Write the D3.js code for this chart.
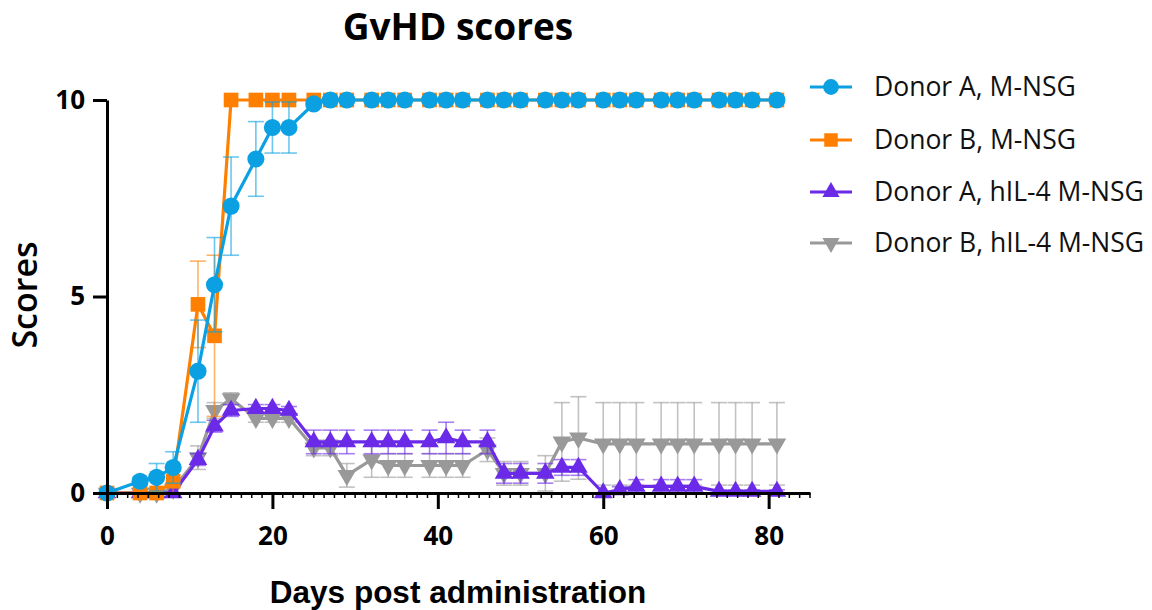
<!DOCTYPE html>
<html>
<head>
<meta charset="utf-8">
<script src="https://cdn.jsdelivr.net/npm/d3@7"></script>
<style>
  html, body { margin: 0; padding: 0; background: #fff; }
  svg { display: block; }
</style>
</head>
<body>
<svg id="chart" width="1152" height="610"></svg>
<script>
// ---------------- DATA ----------------
const days = [0,4,6,8,11,13,15,18,20,22,25,27,29,32,34,36,39,41,43,46,48,50,53,55,57,60,62,64,67,69,71,74,76,78,81];

const seriesNames = ["Donor A, M-NSG", "Donor B, M-NSG", "Donor A, hIL-4 M-NSG", "Donor B, hIL-4 M-NSG"];

const donorA_MNSG_mean = [0,0.3,0.4,0.65,3.1,5.3,7.3,8.5,9.3,9.3,9.9,10,10,10,10,10,10,10,10,10,10,10,10,10,10,10,10,10,10,10,10,10,10,10,10];
const donorA_MNSG_sem  = [0,0.1,0.35,0.4,1.3,1.2,1.25,0.95,0.65,0.65,0.1,0,0,0,0,0,0,0,0,0,0,0,0,0,0,0,0,0,0,0,0,0,0,0,0];

const donorB_MNSG_mean = [0,0,0,0.3,4.8,4.0,10,10,10,10,10,10,10,10,10,10,10,10,10,10,10,10,10,10,10,10,10,10,10,10,10,10,10,10,10];
const donorB_MNSG_sem  = [0,0,0,0.3,1.1,2.05,0,0,0,0,0,0,0,0,0,0,0,0,0,0,0,0,0,0,0,0,0,0,0,0,0,0,0,0,0];

const donorA_IL4_mean = [0,0,0,0,0.85,1.7,2.1,2.15,2.15,2.1,1.3,1.3,1.3,1.3,1.3,1.3,1.3,1.4,1.3,1.3,0.5,0.5,0.5,0.65,0.65,0,0.08,0.17,0.17,0.17,0.17,0.04,0.04,0.04,0.04];
const donorA_IL4_sem  = [0,0,0,0,0.15,0.15,0.15,0.1,0.1,0.1,0.3,0.3,0.3,0.3,0.3,0.3,0.3,0.4,0.3,0.3,0.25,0.25,0.25,0.2,0.2,0,0.08,0.17,0.17,0.17,0.17,0.04,0.04,0.04,0.04];

const donorB_IL4_mean = [0,0,0,0.1,0.9,2.1,2.4,1.9,1.9,1.9,1.15,1.15,0.45,0.85,0.7,0.7,0.7,0.7,0.7,1.1,0.5,0.5,0.5,1.3,1.4,1.25,1.25,1.25,1.25,1.25,1.25,1.25,1.25,1.25,1.25];
const donorB_IL4_sem  = [0,0,0,0.1,0.3,0.2,0.15,0.1,0.1,0.1,0.2,0.2,0.3,0.45,0.3,0.3,0.3,0.3,0.3,0.3,0.3,0.3,0.45,1.0,1.05,1.05,1.05,1.05,1.05,1.05,1.05,1.05,1.05,1.05,1.05];

const xTicks = [0,20,40,60,80];
const yTicks = [0,5,10];

// ---------------- STYLE ----------------
const colors = ["#0aa0e2", "#ff8000", "#6a2ae8", "#999999"];
const symbols = [d3.symbolCircle, d3.symbolSquare, d3.symbolTriangle, d3.symbolTriangle];
const symSizes = [230, 215, 150, 150];
const rotations = [0, 0, 0, 180];

const series = [
  {name: seriesNames[0], mean: donorA_MNSG_mean, sem: donorA_MNSG_sem},
  {name: seriesNames[1], mean: donorB_MNSG_mean, sem: donorB_MNSG_sem},
  {name: seriesNames[2], mean: donorA_IL4_mean, sem: donorA_IL4_sem},
  {name: seriesNames[3], mean: donorB_IL4_mean, sem: donorB_IL4_sem}
].map((s, i) => ({...s, color: colors[i], symbol: symbols[i], size: symSizes[i], rot: rotations[i],
  pts: days.map((d, j) => ({x: d, y: s.mean[j], e: s.sem[j]}))}));

const svg = d3.select("#chart");
const x = d3.scaleLinear().domain([0, 85]).range([107, 810]);
const y = d3.scaleLinear().domain([0, 10]).range([493, 100]);

const plot = svg.append("g");

// draw order: last series underneath, first on top
const order = [3, 2, 1, 0];
order.forEach(i => {
  const s = series[i];
  const g = plot.append("g");
  const eb = g.append("g").attr("stroke", s.color).attr("stroke-opacity", 0.6).attr("stroke-width", 1.6).attr("fill", "none");
  s.pts.filter(p => p.e > 0).forEach(p => {
    const cx = x(p.x);
    eb.append("line").attr("x1", cx).attr("x2", cx).attr("y1", y(p.y - p.e)).attr("y2", y(p.y + p.e));
    eb.append("line").attr("x1", cx - 8).attr("x2", cx + 8).attr("y1", y(p.y + p.e)).attr("y2", y(p.y + p.e));
    eb.append("line").attr("x1", cx - 8).attr("x2", cx + 8).attr("y1", y(p.y - p.e)).attr("y2", y(p.y - p.e));
  });
  g.append("path").datum(s.pts)
    .attr("fill", "none").attr("stroke", s.color).attr("stroke-width", 3.2).attr("stroke-linejoin", "round")
    .attr("d", d3.line().x(p => x(p.x)).y(p => y(p.y)));
  g.selectAll("path.m").data(s.pts).join("path").attr("class", "m")
    .attr("fill", s.color)
    .attr("transform", p => `translate(${x(p.x)},${y(p.y)}) rotate(${s.rot})`)
    .attr("d", d3.symbol().type(s.symbol).size(s.size));
});

// ---------------- AXES ----------------
const axG = svg.append("g");
const xAxis = d3.axisBottom(x).tickValues(xTicks).tickSize(16).tickSizeOuter(0).tickPadding(18).tickFormat(d3.format("d"));
const xg = axG.append("g").attr("transform", `translate(0,${y(0)})`).call(xAxis);
xg.select(".domain").attr("stroke", "#000").attr("stroke-width", 3);
xg.selectAll(".tick line").attr("stroke", "#000").attr("stroke-width", 3);
xg.selectAll(".tick text").attr("font-family", "Open Sans, sans-serif").attr("font-weight", 700).attr("font-size", 26).attr("fill", "#000");
const minor = d3.range(0, 85.01, 1.25).filter(v => xTicks.indexOf(v) < 0);
axG.append("g").selectAll("line").data(minor).join("line")
  .attr("x1", d => x(d)).attr("x2", d => x(d)).attr("y1", y(0)).attr("y2", y(0) + 5)
  .attr("stroke", "#000").attr("stroke-width", 1.5);

const yAxis = d3.axisLeft(y).tickValues(yTicks).tickSize(14).tickSizeOuter(0).tickPadding(8).tickFormat(d3.format("d"));
const yg = axG.append("g").attr("transform", `translate(${x(0)},0)`).call(yAxis);
yg.select(".domain").attr("stroke", "#000").attr("stroke-width", 3);
yg.selectAll(".tick line").attr("stroke", "#000").attr("stroke-width", 3);
yg.selectAll(".tick text").attr("font-family", "Open Sans, sans-serif").attr("font-weight", 700).attr("font-size", 26).attr("fill", "#000");

// ---------------- TITLES ----------------
svg.append("text").attr("x", 458).attr("y", 40).attr("text-anchor", "middle")
  .attr("font-family", "Open Sans, sans-serif").attr("font-weight", 700).attr("font-size", 37).attr("fill", "#000")
  .text("GvHD scores");
svg.append("text").attr("x", 458).attr("y", 603).attr("text-anchor", "middle")
  .attr("font-family", "Liberation Sans, Arial, sans-serif").attr("font-weight", 700).attr("font-size", 31.5).attr("fill", "#000")
  .text("Days post administration");
svg.append("text").attr("transform", "translate(37,295) rotate(-90)").attr("text-anchor", "middle")
  .attr("font-family", "Open Sans, sans-serif").attr("font-weight", 600).attr("font-size", 34).attr("fill", "#000")
  .text("Scores");

// ---------------- LEGEND ----------------
const legY = [87, 140, 192, 243];
const leg = svg.append("g");
series.forEach((s, i) => {
  const g = leg.append("g").attr("transform", `translate(0,${legY[i]})`);
  g.append("line").attr("x1", 810).attr("x2", 852).attr("y1", 0).attr("y2", 0).attr("stroke", s.color).attr("stroke-width", 3);
  g.append("path").attr("transform", `translate(831,0) rotate(${s.rot})`).attr("fill", s.color)
    .attr("d", d3.symbol().type(s.symbol).size(s.size * 0.85));
  g.append("text").attr("x", 874).attr("y", 0).attr("dy", "0.35em")
    .attr("font-family", "Open Sans, sans-serif").attr("font-size", 26.5).attr("fill", "#111")
    .text(s.name);
});
</script>
</body>
</html>
